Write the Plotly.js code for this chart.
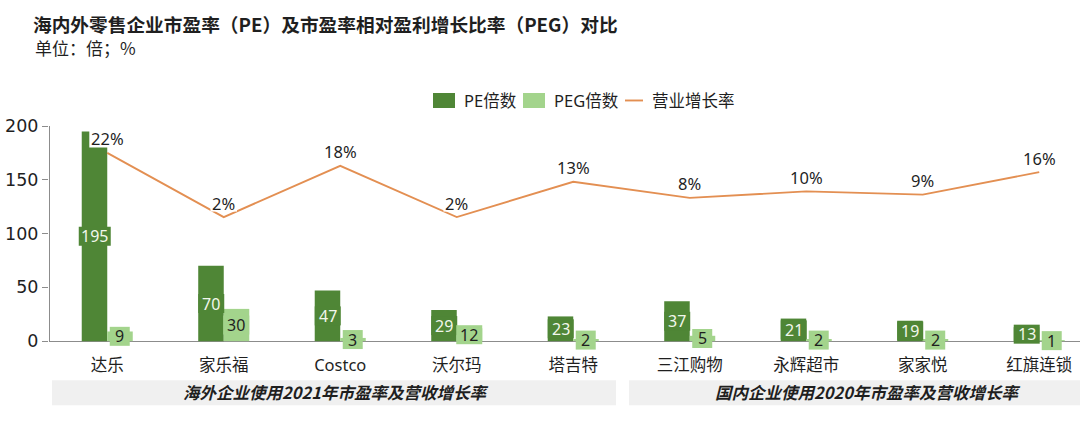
<!DOCTYPE html>
<html>
<head>
<meta charset="utf-8">
<script src="https://cdn.plot.ly/plotly-3.0.1.min.js"></script>
<style>html,body{margin:0;padding:0;background:#fff;}#chart{width:1080px;height:421px;}</style>
</head>
<body>
<div id="chart"></div>
<script>
var categories = ["达乐", "家乐福", "Costco", "沃尔玛", "塔吉特", "三江购物", "永辉超市", "家家悦", "红旗连锁"];
var peValues = [195, 70, 47, 29, 23, 37, 21, 19, 13];
var pegValues = [9, 30, 3, 12, 2, 5, 2, 2, 1];
var growthValues = [22, 2, 18, 2, 13, 8, 10, 9, 16];
var yTicks = [0, 50, 100, 150, 200];
var seriesNames = ["PE倍数", "PEG倍数", "营业增长率"];
var groupLabels = ["海外企业使用2021年市盈率及营收增长率", "国内企业使用2020年市盈率及营收增长率"];

var CJK = '"Noto Sans CJK SC", sans-serif';
var LAT = '"Noto Sans", "Noto Sans CJK SC", sans-serif';
var TICK = '"DejaVu Sans", "Noto Sans CJK SC", sans-serif';
var C_PE = '#4F8636', C_PEG = '#A3D48C', C_LINE = '#E38F52', C_TXT = '#1f1f1f', C_AX = '#8c8c8c';

// plot area geometry in page pixels (layout only). y=0 sits at page y 341, y=200 at 126.
var Y0PX = 341, Y200PX = 126, PPU = (Y0PX - Y200PX) / 200, YMIN = -11;
var L = 49, R = 0, T = Y200PX, B = 421 - (Y0PX - YMIN * PPU), W = 1080 - L - R, H = 421 - T - B;
function px(x) { return (x - L) / W; }
function py(y) { return (421 - B - y) / H; }

var traces = [
  {type: 'bar', name: seriesNames[0], x: categories, y: peValues, marker: {color: C_PE}},
  {type: 'bar', name: seriesNames[1], x: categories, y: pegValues, marker: {color: C_PEG}},
  {type: 'scatter', mode: 'lines', name: seriesNames[2], x: categories, y: growthValues, yaxis: 'y2',
   line: {color: C_LINE, width: 1.9}}
];

var annotations = [];
var shapes = [
  {type: 'rect', xref: 'paper', yref: 'paper', x0: px(52), x1: px(616), y0: py(405), y1: py(380), fillcolor: '#F0F0F0', line: {width: 0}, layer: 'below'},
  {type: 'rect', xref: 'paper', yref: 'paper', x0: px(629), x1: px(1080), y0: py(405), y1: py(380), fillcolor: '#F0F0F0', line: {width: 0}, layer: 'below'},
  // y axis line from 0 to 200
  {type: 'line', xref: 'paper', yref: 'y', x0: 0.0005, x1: 0.0005, y0: 0, y1: 200, line: {color: C_AX, width: 1}, layer: 'above'}
];

// label background box anchored to data point, sized in pixels
function labelBox(i, yval, yref, dx, dy, w, h, color) {
  shapes.push({type: 'rect', layer: 'above', xref: 'x', yref: yref,
    xsizemode: 'pixel', ysizemode: 'pixel', xanchor: i, yanchor: yval,
    x0: dx - w / 2, x1: dx + w / 2, y0: dy - h / 2, y1: dy + h / 2,
    fillcolor: color, line: {width: 0}});
}
function boxW(v) { return 14 + 6 * String(v).length; }

categories.forEach(function (c, i) {
  labelBox(i, peValues[i] / 2, 'y', -12.5, 0, boxW(peValues[i]), 19, C_PE);
  annotations.push({x: i, y: peValues[i] / 2, xref: 'x', yref: 'y', text: String(peValues[i]), showarrow: false,
    xshift: -12.5, font: {family: LAT, size: 16, color: '#F2F7EC'}});
  labelBox(i, pegValues[i] / 2, 'y', 12.5, 0, boxW(pegValues[i]), 19, C_PEG);
  annotations.push({x: i, y: pegValues[i] / 2, xref: 'x', yref: 'y', text: String(pegValues[i]), showarrow: false,
    xshift: 12.5, font: {family: LAT, size: 16, color: C_TXT}});
  var gl = growthValues[i] + '%';
  labelBox(i, growthValues[i], 'y2', 0, 14, 8 + 9.3 * gl.length, 17, '#ffffff');
  annotations.push({x: i, y: growthValues[i], xref: 'x', yref: 'y2', text: gl, showarrow: false,
    yshift: 14, font: {family: LAT, size: 16.5, color: C_TXT}});
});

// subtitle
annotations.push({xref: 'paper', yref: 'paper', x: px(33), y: py(48), xanchor: 'left', yanchor: 'middle',
  text: '单位：倍；%', showarrow: false, font: {family: CJK, size: 17, color: C_TXT}});

// group band labels
annotations.push({xref: 'paper', yref: 'paper', x: px(335), y: py(392), xanchor: 'center', yanchor: 'middle',
  text: '<b><i>' + groupLabels[0] + '</i></b>', showarrow: false, font: {family: CJK, size: 16.5, color: C_TXT}});
annotations.push({xref: 'paper', yref: 'paper', x: px(867), y: py(392), xanchor: 'center', yanchor: 'middle',
  text: '<b><i>' + groupLabels[1] + '</i></b>', showarrow: false, font: {family: CJK, size: 16.5, color: C_TXT}});

// legend (drawn manually to match swatch sizes)
var legY = 100.5;
var legendItems = [
  {sx0: 433, sx1: 455, tx: 462, kind: 'rect', color: C_PE, text: seriesNames[0]},
  {sx0: 523, sx1: 545, tx: 552, kind: 'rect', color: C_PEG, text: seriesNames[1]},
  {sx0: 625, sx1: 643, tx: 650, kind: 'line', color: C_LINE, text: seriesNames[2]}
];
legendItems.forEach(function (it) {
  if (it.kind === 'rect') {
    shapes.push({type: 'rect', xref: 'paper', yref: 'paper', x0: px(it.sx0), x1: px(it.sx1), y0: py(legY + 7.5), y1: py(legY - 7.5),
      fillcolor: it.color, line: {width: 0}});
  } else {
    shapes.push({type: 'line', xref: 'paper', yref: 'paper', x0: px(it.sx0), x1: px(it.sx1), y0: py(legY), y1: py(legY),
      line: {color: it.color, width: 1.9}});
  }
  annotations.push({xref: 'paper', yref: 'paper', x: px(it.tx), y: py(legY), xanchor: 'left', yanchor: 'middle',
    text: it.text, showarrow: false, font: {family: LAT, size: 16.5, color: C_TXT}});
});

var layout = {
  width: 1080, height: 421,
  margin: {l: L, r: R, t: T, b: B},
  paper_bgcolor: '#ffffff', plot_bgcolor: '#ffffff',
  font: {family: LAT, size: 16, color: C_TXT},
  title: {text: '<b>海内外零售企业市盈率（PE）及市盈率相对盈利增长比率（PEG）对比</b>', x: 33 / 1080, xanchor: 'left',
    y: 1 - 25.5 / 421, yanchor: 'middle', font: {family: CJK, size: 18.7, color: C_TXT}},
  barmode: 'group', bargap: 0.562, bargroupgap: 0,
  showlegend: false,
  xaxis: {type: 'category', range: [-0.5, 8.35], showline: false, ticks: '', showgrid: false, zeroline: false,
    ticklabelstandoff: 0, tickfont: {family: LAT, size: 16.5, color: C_TXT}, fixedrange: true},
  yaxis: {range: [YMIN, 200], tickvals: yTicks, showline: false,
    ticks: 'outside', ticklen: 6, tickcolor: C_AX, showgrid: false,
    zeroline: true, zerolinecolor: C_AX, zerolinewidth: 1, ticklabelstandoff: 0,
    tickfont: {family: TICK, size: 17.5, color: C_TXT}, fixedrange: true},
  yaxis2: {overlaying: 'y', side: 'right', range: [-36.7 - (11 * PPU) * (67.1 / 215), 30.4], visible: false, showgrid: false, zeroline: false, fixedrange: true},
  annotations: annotations,
  shapes: shapes
};

Plotly.newPlot('chart', traces, layout, {displayModeBar: false, staticPlot: true});
</script>
</body>
</html>
